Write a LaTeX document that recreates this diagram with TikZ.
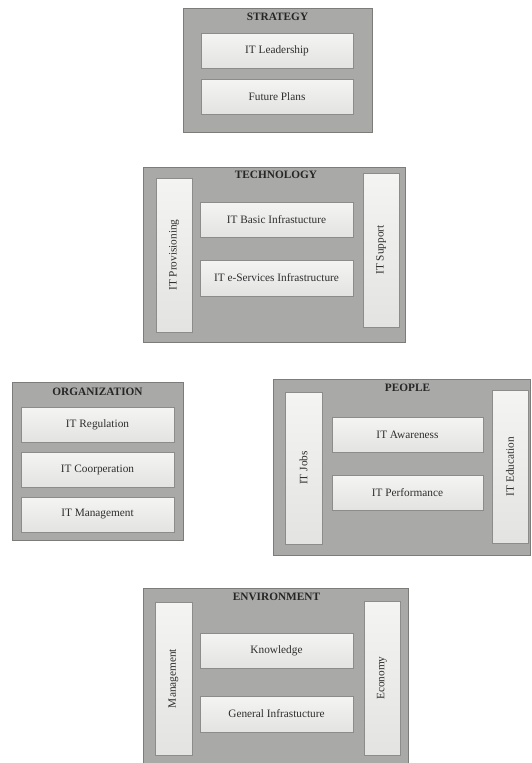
\documentclass[tikz,border=0pt]{standalone}
\usepackage{fontspec}
\setmainfont{Liberation Serif}
\definecolor{outerfill}{HTML}{A9A9A7}
\definecolor{outerline}{HTML}{7C7C7A}
\definecolor{innerline}{HTML}{8C8C8A}
\definecolor{innertop}{HTML}{F4F4F2}
\definecolor{innerbot}{HTML}{E3E3E1}
\definecolor{txt}{HTML}{2E2E2E}
\tikzset{
  group/.style={draw=outerline, fill=outerfill, line width=1pt, inner sep=0pt, outer sep=0pt},
  item/.style={draw=innerline, top color=innertop, bottom color=innerbot, line width=0.8pt, inner sep=0pt, outer sep=0pt,
    text=txt, font=\fontsize{11.3}{13}\selectfont},
  vitem/.style={item, rotate=90},
  ttl/.style={inner sep=0pt, text=black!85, font=\fontsize{11.3}{13}\selectfont\bfseries}
}
\begin{document}
\begin{tikzpicture}[x=1pt,y=-1pt]
\useasboundingbox (0,0) rectangle (531,763);
\fill[white] (0,0) rectangle (531,763);
% STRATEGY
\node[group, minimum width=189pt, minimum height=124pt] (strat) at (277.5,70) {};
\node[ttl] (strattl) at (277.5,17) {STRATEGY};
\node[item, minimum width=152pt, minimum height=35pt] (lead) at (277,50.5) {IT Leadership};
\node[item, minimum width=152pt, minimum height=35pt] (plans) at (277,96.5) {Future Plans};
% TECHNOLOGY
\node[group, minimum width=262pt, minimum height=175pt] (tech) at (274,254.5) {};
\node[ttl] (techttl) at (276,175) {TECHNOLOGY};
\node[vitem, minimum width=154pt, minimum height=36pt] (prov) at (174,255) {IT Provisioning};
\node[vitem, minimum width=154pt, minimum height=36pt] (supp) at (381,250) {IT Support};
\node[item, minimum width=153pt, minimum height=35pt] (basic) at (276.5,219.5) {IT Basic Infrastucture};
\node[item, minimum width=153pt, minimum height=36pt] (eserv) at (276.5,278) {IT e-Services Infrastructure};
% ORGANIZATION
\node[group, minimum width=171pt, minimum height=158pt] (org) at (97.5,461) {};
\node[ttl] (orgttl) at (97.5,392) {ORGANIZATION};
\node[item, minimum width=153pt, minimum height=35pt] (reg) at (97.5,424.5) {IT Regulation};
\node[item, minimum width=153pt, minimum height=35pt] (coop) at (97.5,469.5) {IT Coorperation};
\node[item, minimum width=153pt, minimum height=35pt] (mgmt) at (97.5,514.5) {IT Management};
% PEOPLE
\node[group, minimum width=257pt, minimum height=176pt] (people) at (401.5,467) {};
\node[ttl] (peoplettl) at (407.5,388) {PEOPLE};
\node[vitem, minimum width=152pt, minimum height=37pt] (jobs) at (303.5,468) {IT Jobs};
\node[vitem, minimum width=153pt, minimum height=36pt] (edu) at (510,466.5) {IT Education};
\node[item, minimum width=151pt, minimum height=35pt] (aware) at (407.5,434.5) {IT Awareness};
\node[item, minimum width=151pt, minimum height=35pt] (perf) at (407.5,492.5) {IT Performance};
% ENVIRONMENT
\node[group, minimum width=265pt, minimum height=175pt] (env) at (275.5,675.5) {};
\node[ttl] (envttl) at (276.5,597) {ENVIRONMENT};
\node[vitem, minimum width=153pt, minimum height=37pt] (emgmt) at (173.5,678.5) {Management};
\node[vitem, minimum width=154pt, minimum height=36pt] (econ) at (382,678) {Economy};
\node[item, minimum width=153pt, minimum height=35pt] (know) at (276.5,650.5) {Knowledge};
\node[item, minimum width=153pt, minimum height=36pt] (genin) at (276.5,714) {General Infrastucture};
\end{tikzpicture}
\end{document}
